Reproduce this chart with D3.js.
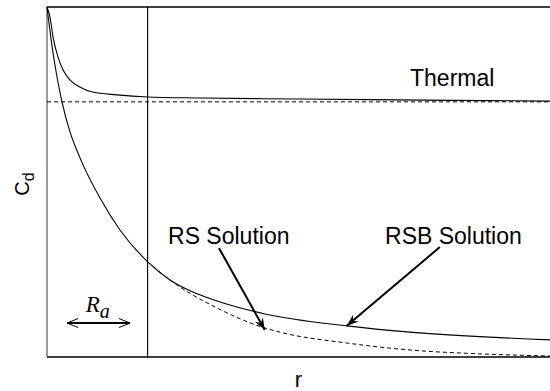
<!DOCTYPE html>
<html><head><meta charset="utf-8">
<script src="https://cdn.jsdelivr.net/npm/d3@7"></script>
<style>body{margin:0;background:#fff}svg{display:block}</style>
</head><body><svg id="c" width="550" height="391"></svg>
<script>
// Thermal solution
const rThermal = [0, 0.06, 0.12, 0.22, 0.32, 0.46, 0.66, 0.91, 1.39, 2.0, 3.04, 5, 7.5, 10];
const thermal  = [1.0, 0.971, 0.914, 0.857, 0.82, 0.791, 0.771, 0.757, 0.749, 0.743, 0.74, 0.737, 0.734, 0.731];
const thermalAsymptote = 0.729;
// RSB solution (solid)
const rRSB = [0, 0.099, 0.199, 0.298, 0.457, 0.656, 1.054, 1.451, 2.008, 2.445, 2.843, 3.38, 4.334, 5.964, 7.217, 10];
const rsb  = [1.0, 0.889, 0.8, 0.729, 0.643, 0.569, 0.454, 0.363, 0.271, 0.22, 0.189, 0.16, 0.123, 0.089, 0.071, 0.049];
// RS solution (dashed), departs from RSB beyond R_a
const rRS = [2.008, 2.445, 3.38, 4.33, 4.63, 5.96, 7.22, 8.6, 10];
const rs  = [0.271, 0.22, 0.14, 0.083, 0.071, 0.04, 0.02, 0.009, 0.003];
const Ra = 2.0;
const labels = {x: "r", y: "C", ySub: "d", thermal: "Thermal", rs: "RS Solution", rsb: "RSB Solution"};

const svg = d3.select("#c");
const m = {l: 47, t: 7, b: 357, r: 550};
const x = d3.scaleLinear().domain([0, 10]).range([m.l, m.r]);
const y = d3.scaleLinear().domain([0, 1]).range([m.b, m.t]);

const defs = svg.append("defs");
defs.append("marker").attr("id", "ah").attr("viewBox", "-12 -6 14 12")
  .attr("refX", 0).attr("refY", 0).attr("markerWidth", 14).attr("markerHeight", 12)
  .attr("markerUnits", "userSpaceOnUse").attr("orient", "auto")
  .append("path").attr("d", "M0,0 L-12,-4.5 L-8,0 L-12,4.5 Z").attr("fill", "#000");

// frame
const g = svg.append("g");
g.append("line").attr("x1", x(0)).attr("x2", x(10)).attr("y1", y(1)).attr("y2", y(1)).attr("stroke", "#000").attr("stroke-width", 1.4);
g.append("line").attr("x1", x(0)).attr("x2", x(10)).attr("y1", y(0)).attr("y2", y(0)).attr("stroke", "#000").attr("stroke-width", 1.6);
g.append("line").attr("x1", x(0)).attr("x2", x(0)).attr("y1", y(1)).attr("y2", y(0)).attr("stroke", "#555").attr("stroke-width", 1.2);
g.append("line").attr("x1", x(Ra)).attr("x2", x(Ra)).attr("y1", y(1)).attr("y2", y(0) + 1).attr("stroke", "#000").attr("stroke-width", 1.1);

const line = d3.line().x(d => x(d[0])).y(d => y(d[1])).curve(d3.curveMonotoneX);
// thermal asymptote
g.append("line").attr("x1", x(0)).attr("x2", x(10)).attr("y1", y(thermalAsymptote)).attr("y2", y(thermalAsymptote))
  .attr("stroke", "#000").attr("stroke-width", 1).attr("stroke-dasharray", "4,3");
g.append("path").attr("d", line(d3.zip(rThermal, thermal))).attr("fill", "none").attr("stroke", "#000").attr("stroke-width", 1.1);
g.append("path").attr("d", line(d3.zip(rRS, rs))).attr("fill", "none").attr("stroke", "#000").attr("stroke-width", 1).attr("stroke-dasharray", "4,3");
g.append("path").attr("d", line(d3.zip(rRSB, rsb))).attr("fill", "none").attr("stroke", "#000").attr("stroke-width", 1.1);

// text labels
const sans = "'Liberation Sans', Arial, Helvetica, sans-serif";
g.append("text").attr("x", x(7.217)).attr("y", y(0.774)).attr("font-family", sans).attr("font-size", 23).text(labels.thermal);
g.append("text").attr("x", x(2.406)).attr("y", y(0.323)).attr("font-family", sans).attr("font-size", 23).text(labels.rs);
g.append("text").attr("x", x(6.72)).attr("y", y(0.323)).attr("font-family", sans).attr("font-size", 23).text(labels.rsb);

// annotation arrows
g.append("line").attr("x1", x(3.42)).attr("y1", y(0.311)).attr("x2", x(4.33)).attr("y2", y(0.077))
  .attr("stroke", "#000").attr("stroke-width", 2).attr("marker-end", "url(#ah)");
g.append("line").attr("x1", x(7.81)).attr("y1", y(0.314)).attr("x2", x(5.96)).attr("y2", y(0.089))
  .attr("stroke", "#000").attr("stroke-width", 2).attr("marker-end", "url(#ah)");

// R_a double arrow
const ay = y(0.097), ax0 = x(0.4), ax1 = x(1.65);
g.append("line").attr("x1", ax0).attr("x2", ax1).attr("y1", ay).attr("y2", ay).attr("stroke", "#000").attr("stroke-width", 2);
g.append("path").attr("d", `M${ax0 + 11},${ay - 4.5} L${ax0},${ay} L${ax0 + 11},${ay + 4.5}`).attr("fill", "none").attr("stroke", "#000").attr("stroke-width", 1);
g.append("path").attr("d", `M${ax1 - 11},${ay - 4.5} L${ax1},${ay} L${ax1 - 11},${ay + 4.5}`).attr("fill", "none").attr("stroke", "#000").attr("stroke-width", 1);
const ra = g.append("text").attr("x", x(0.77)).attr("y", y(0.129)).attr("font-family", "'Liberation Serif', 'Times New Roman', serif").attr("font-style", "italic").attr("font-size", 23);
ra.append("tspan").text("R");
ra.append("tspan").attr("dy", 6).attr("font-size", 20).text("a");

// axis titles
g.append("text").attr("x", x(5.0)).attr("y", 387).attr("text-anchor", "middle").attr("font-family", sans).attr("font-size", 22).text(labels.x);
const yl = g.append("text").attr("transform", "translate(29,184) rotate(-90)").attr("text-anchor", "middle").attr("font-family", sans).attr("font-size", 20);
yl.append("tspan").text(labels.y);
yl.append("tspan").attr("dy", 5).attr("font-size", 16).text(labels.ySub);
</script></body></html>
